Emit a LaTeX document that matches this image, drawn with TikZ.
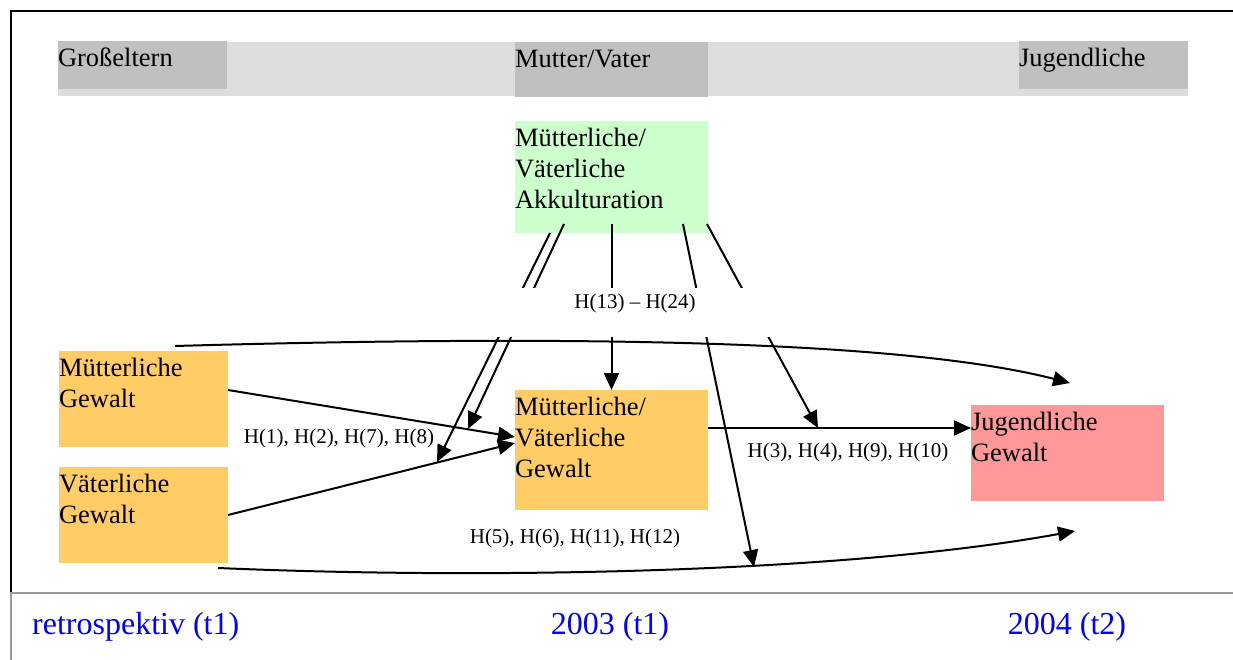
\documentclass[tikz,border=0pt]{standalone}
\usepackage{fontspec}
\setmainfont{Liberation Serif}
\usetikzlibrary{arrows.meta,calc}
\definecolor{orangebox}{HTML}{FFCC66}
\definecolor{greenbox}{HTML}{CCFFCC}
\definecolor{redbox}{HTML}{FF9999}
\definecolor{darkbar}{HTML}{C0C0C0}
\definecolor{lightbar}{HTML}{DDDDDD}
\definecolor{frameg}{HTML}{9A9A9A}
\newcommand\boxtxt[3]{\parbox[c][#2][t]{#1}{\raggedright\rule{0pt}{25.5pt}#3}}
\tikzset{
  gbox/.style={inner sep=0pt, outer sep=0pt, anchor=north west,
    font=\fontsize{26.5pt}{31pt}\selectfont},
  conn/.style={line width=2pt, -{Triangle[length=17pt,width=15pt]}},
  hlab/.style={font=\fontsize{21pt}{25pt}\selectfont, inner sep=0pt, anchor=base},
  tlab/.style={font=\fontsize{32pt}{38pt}\selectfont, text=blue, inner sep=0pt, anchor=base},
}
\begin{document}
\begin{tikzpicture}[x=1pt,y=-1pt]
\useasboundingbox (0,0) rectangle (1233,660);
% frame
\draw[line width=2pt] (10,11) -- (1233,11);
\draw[line width=2pt] (11,11) -- (11,593);
\draw[line width=2pt, frameg] (10,593) -- (1233,593);
\draw[line width=2pt, frameg] (11,593) -- (11,660);
% top bar
\node[inner sep=0pt, outer sep=0pt, anchor=north west, fill=lightbar,
  minimum width=1130pt, minimum height=54pt] (bar) at (58,42) {};
\node[gbox, fill=darkbar] (ge) at (58,41) {\boxtxt{169pt}{48pt}{Großeltern}};
\node[gbox, fill=darkbar] (mv) at (515,42) {\boxtxt{193pt}{55pt}{Mutter/Vater}};
\node[gbox, fill=darkbar] (ju) at (1019,41) {\boxtxt{169pt}{48pt}{Jugendliche}};
% boxes
\node[gbox, fill=greenbox] (akk) at (515,121) {\boxtxt{193pt}{112pt}{Mütterliche/\\Väterliche\\Akkulturation}};
\node[gbox, fill=orangebox] (mg) at (59,351) {\boxtxt{169pt}{96pt}{Mütterliche\\Gewalt}};
\node[gbox, fill=orangebox] (vg) at (59,467) {\boxtxt{169pt}{96pt}{Väterliche\\Gewalt}};
\node[gbox, fill=orangebox] (mvg) at (515,390) {\boxtxt{193pt}{120pt}{Mütterliche/\\Väterliche\\Gewalt}};
\node[gbox, fill=redbox] (jg) at (971,405) {\boxtxt{193pt}{96pt}{Jugendliche\\Gewalt}};
% coordinates
\coordinate (cA) at ($(akk.south west)+(35,0)$);
\coordinate (cB) at ($(akk.south west)+(49,-9)$);
\coordinate (cC) at ($(akk.south)+(0,-9)$);
\coordinate (cD) at ($(akk.south west)+(168,-9)$);
\coordinate (cE) at ($(akk.south west)+(192,-9)$);
\coordinate (eA) at (437,462);
\coordinate (eB) at (468,429);
\coordinate (eD) at (754,567);
\coordinate (eE) at (818,428);
\coordinate (hin) at ($(jg.west)+(0,-25)$);
\coordinate (tS) at (175,346);
\coordinate (tE) at (1070,383);
\coordinate (bS) at (218,568);
\coordinate (bE) at (1075,531);
% acculturation connectors
\draw[conn] (cA) -- (eA);
\draw[conn] (cB) -- (eB);
\draw[conn] (cC) -- (mvg.north);
\draw[conn] (cD) -- (eD);
\draw[conn] (cE) -- (eE);
\node[fill=white, inner sep=0pt, text height=20.5pt, text depth=28.5pt,
  minimum width=310pt, anchor=north, font=\fontsize{21pt}{25pt}\selectfont]
  (hakk) at (635,288) {H(13) – H(24)};
% main connectors
\draw[conn] ($(mg.east)+(0,-9)$) -- ($(mvg.west)+(0,-13)$);
\draw[conn] (vg.east) -- ($(mvg.west)+(0,-7)$);
\draw[conn] (mvg.east |- hin) -- (hin);
\draw[conn] (tS) .. controls (600,334) and (910,342) .. (tE);
\draw[conn] (bS) .. controls (500,580) and (850,572) .. (bE);
% labels
\node[hlab] (l1) at (339,443) {H(1), H(2), H(7), H(8)};
\node[hlab] (l2) at (848,457) {H(3), H(4), H(9), H(10)};
\node[hlab] (l3) at (575,543) {H(5), H(6), H(11), H(12)};
% time labels
\node[tlab, anchor=base west] (t0) at (32,634) {retrospektiv (t1)};
\node[tlab] (t1) at (610,634) {2003 (t1)};
\node[tlab] (t2) at (1067,634) {2004 (t2)};
\end{tikzpicture}
\end{document}
